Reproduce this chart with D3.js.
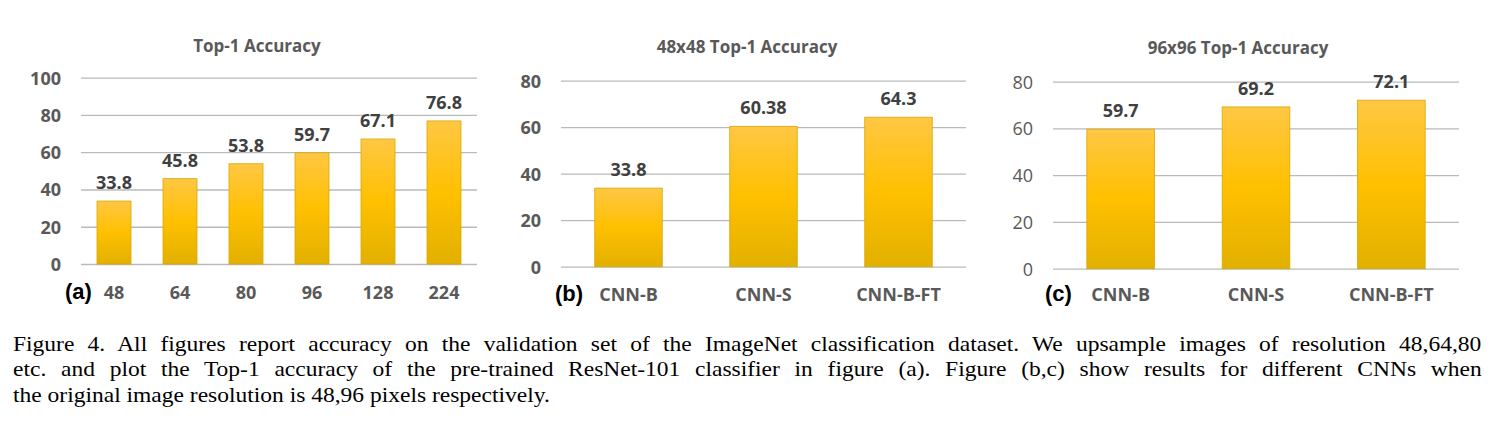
<!DOCTYPE html>
<html>
<head>
<meta charset="utf-8">
<script src="https://cdn.jsdelivr.net/npm/d3@7"></script>
<style>
  html, body { margin: 0; padding: 0; background: #fff; }
  body { width: 1492px; height: 428px; position: relative; overflow: hidden; }
  svg { position: absolute; left: 0; top: 0; }
  .caption { position: absolute; left: 13px; width: 1375px; font-family: "Liberation Serif", "Times New Roman", serif;
             font-size: 22px; line-height: 25.5px; color: #000; top: 330.5px;
             transform: scaleX(1.068); transform-origin: 0 0; }
  .caption div { white-space: nowrap; }
  .caption span { display: inline-block; white-space: nowrap; }
</style>
</head>
<body>
<svg id="chart" width="1492" height="428"></svg>
<div class="caption" id="caption"></div>
<script>
// ---- data ----
const catsA = ["48", "64", "80", "96", "128", "224"];
const valsA = [33.8, 45.8, 53.8, 59.7, 67.1, 76.8];
const labelsA = ["33.8", "45.8", "53.8", "59.7", "67.1", "76.8"];
const ticksA = [0, 20, 40, 60, 80, 100];

const catsB = ["CNN-B", "CNN-S", "CNN-B-FT"];
const valsB = [33.8, 60.38, 64.3];
const labelsB = ["33.8", "60.38", "64.3"];
const ticksB = [0, 20, 40, 60, 80];

const catsC = ["CNN-B", "CNN-S", "CNN-B-FT"];
const valsC = [59.7, 69.2, 72.1];
const labelsC = ["59.7", "69.2", "72.1"];
const ticksC = [0, 20, 40, 60, 80];

const titles = ["Top-1 Accuracy", "48x48 Top-1 Accuracy", "96x96 Top-1 Accuracy"];
const tags = ["(a)", "(b)", "(c)"];

const captionLines = [
  "Figure 4. All figures report accuracy on the validation set of the ImageNet classification dataset. We upsample images of resolution 48,64,80",
  "etc. and plot the Top-1 accuracy of the pre-trained ResNet-101 classifier in figure (a). Figure (b,c) show results for different CNNs when",
  "the original image resolution is 48,96 pixels respectively."
];

// ---- drawing ----
const svg = d3.select("#chart");
const defs = svg.append("defs");
const grad = defs.append("linearGradient").attr("id", "gold").attr("x1", 0).attr("y1", 0).attr("x2", 0).attr("y2", 1);
grad.append("stop").attr("offset", "0%").attr("stop-color", "#FFC744");
grad.append("stop").attr("offset", "50%").attr("stop-color", "#FFC000");
grad.append("stop").attr("offset", "100%").attr("stop-color", "#E2B000");

const FONT = "'Open Sans', 'Noto Sans', sans-serif";

const panels = [
  { cats: catsA, vals: valsA, labels: labelsA, ticks: ticksA, max: 100, x0: 81, x1: 477, y0: 264, y1: 77.7, pad: 0.485,
    tickBold: true, titleX: 257, titleY: 52, tagX: 65, title: titles[0], tag: tags[0] },
  { cats: catsB, vals: valsB, labels: labelsB, ticks: ticksB, max: 80, x0: 561, x1: 966, y0: 266.7, y1: 80.7, pad: 0.5,
    tickBold: true, titleX: 747, titleY: 53, tagX: 555, title: titles[1], tag: tags[1] },
  { cats: catsC, vals: valsC, labels: labelsC, ticks: ticksC, max: 80, x0: 1053, x1: 1459, y0: 268.7, y1: 81.7, pad: 0.5,
    tickBold: false, titleX: 1238, titleY: 54, tagX: 1045, title: titles[2], tag: tags[2] }
];

panels.forEach((p, pi) => {
  const g = svg.append("g");
  const x = d3.scaleBand().domain(p.cats).range([p.x0, p.x1]).paddingInner(p.pad).paddingOuter(p.pad / 2);
  const y = d3.scaleLinear().domain([0, p.max]).range([p.y0, p.y1]);

  // gridlines via axis
  const grid = g.append("g").attr("transform", `translate(${p.x0},0)`)
    .call(d3.axisRight(y).tickValues(p.ticks).tickSize(p.x1 - p.x0).tickFormat(""));
  grid.select(".domain").remove();
  grid.selectAll("line").attr("stroke", "#BABABA").attr("stroke-width", 1.3);

  // y tick labels via axis
  const yax = g.append("g").attr("transform", `translate(${p.x0},0)`)
    .call(d3.axisLeft(y).tickValues(p.ticks).tickSize(0).tickPadding(20).tickFormat(d3.format("d")));
  yax.select(".domain").remove();
  yax.selectAll("text").attr("font-family", FONT).attr("font-size", 18)
    .attr("font-weight", p.tickBold ? 700 : 400).attr("fill", "#595959").attr("dy", "0.35em");

  // bars
  g.selectAll("rect.bar").data(p.vals).enter().append("rect").attr("class", "bar")
    .attr("x", (d, i) => x(p.cats[i]))
    .attr("width", x.bandwidth())
    .attr("y", d => y(d))
    .attr("height", d => y(0) - y(d))
    .attr("fill", "url(#gold)")
    .attr("stroke", "#D6A800").attr("stroke-width", 0.8);

  // value labels
  g.selectAll("text.val").data(p.vals).enter().append("text").attr("class", "val")
    .attr("x", (d, i) => x(p.cats[i]) + x.bandwidth() / 2)
    .attr("y", d => y(d) - 12)
    .attr("text-anchor", "middle")
    .attr("font-family", FONT).attr("font-size", 18).attr("font-weight", 700).attr("fill", "#404040")
    .text((d, i) => p.labels[i]);

  // x axis labels
  const xax = g.append("g").attr("transform", `translate(0,${p.y0})`)
    .call(d3.axisBottom(x).tickSize(0).tickPadding(0));
  xax.select(".domain").remove();
  xax.selectAll("text").attr("font-family", FONT).attr("font-size", 18).attr("font-weight", 700)
    .attr("fill", "#595959").attr("dy", 0).attr("y", (pi === 0 ? 299 : 301.5) - p.y0);

  // title
  g.append("text").attr("x", p.titleX).attr("y", p.titleY).attr("text-anchor", "middle")
    .attr("font-family", FONT).attr("font-size", 17).attr("font-weight", 700).attr("fill", "#595959")
    .text(p.title);

  // panel tag
  g.append("text").attr("x", p.tagX).attr("y", pi === 0 ? 299 : 301)
    .attr("font-family", "'Liberation Sans', Arial, sans-serif").attr("font-size", 22).attr("font-weight", 700)
    .attr("fill", "#000").text(p.tag);
});

// caption (first two lines justified to the full width via word spacing)
const cap = d3.select("#caption");
const capWidth = 1375;
captionLines.forEach((t, i) => {
  const span = cap.append("div").append("span").text(t);
  if (i < 2) {
    const node = span.node();
    const natural = node.offsetWidth;
    const spaces = (t.match(/ /g) || []).length;
    const extra = (capWidth - natural) / spaces;
    span.style("word-spacing", extra + "px");
  }
});
</script>
</body>
</html>
